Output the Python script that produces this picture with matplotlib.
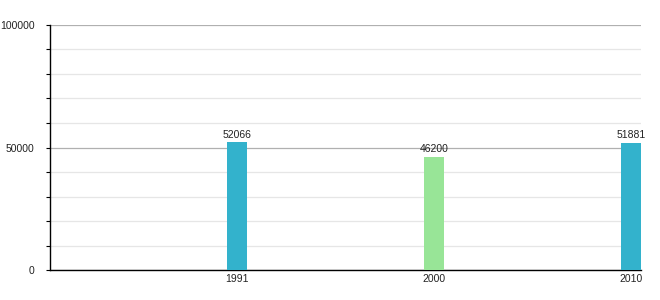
import matplotlib
matplotlib.use("Agg")
import matplotlib.pyplot as plt
from matplotlib.ticker import MultipleLocator

years = ["1991", "2000", "2010"]
values = [52066, 46200, 51881]
colors = ["#33b2cc", "#98e597", "#33b2cc"]

plt.rcParams['font.family'] = ['Liberation Sans', 'DejaVu Sans']

fig = plt.figure(figsize=(6.6, 3.0), dpi=100)
ax = fig.add_axes([50/660, 30/300, (641-50)/660, (270-25)/300])

x = list(range(len(years)))
bars = ax.bar(x, values, width=0.1015, color=colors, zorder=3)
for xi, v in zip(x, values):
    ax.annotate(str(v), (xi, v), xytext=(0, 2), textcoords="offset points",
                ha="center", va="bottom", fontsize=7.5, color="#222222", zorder=4)

ax.set_xlim(-0.95, 2.05)
ax.set_ylim(0, 100000)
ax.set_xticks(x)
ax.set_xticklabels(years)
ax.yaxis.set_major_locator(MultipleLocator(50000))
ax.yaxis.set_minor_locator(MultipleLocator(10000))
ax.grid(axis="y", which="major", color="#b0b0b0", linewidth=0.9, zorder=0)
ax.grid(axis="y", which="minor", color="#e6e6e6", linewidth=0.9, zorder=0)

for s in ["top", "right"]:
    ax.spines[s].set_visible(False)
ax.spines["left"].set_color("black")
ax.spines["bottom"].set_color("black")
ax.spines["left"].set_linewidth(1.0)
ax.spines["bottom"].set_linewidth(1.0)

ax.tick_params(axis="x", length=0, pad=3, labelsize=7.5, colors="#222222")
ax.tick_params(axis="y", which="major", length=3, width=0.8, pad=8, labelsize=7.5, colors="#222222")
ax.tick_params(axis="y", which="minor", length=3, width=0.8, color="#222222")
ax.tick_params(axis="y", which="both", color="black")

fig.savefig("out.png", dpi=100)
